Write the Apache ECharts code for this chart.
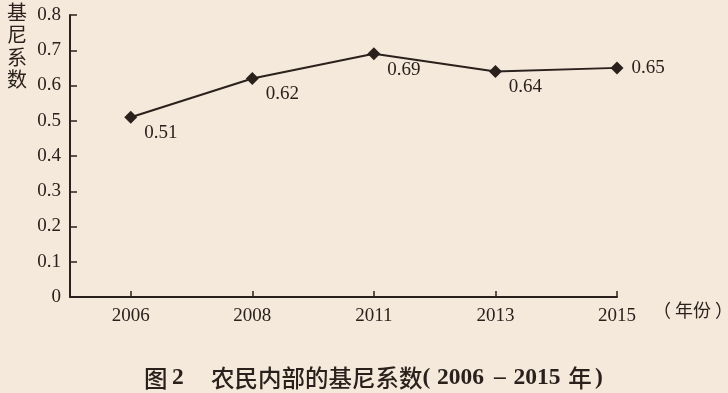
<!DOCTYPE html>
<html><head><meta charset="utf-8">
<script src="https://cdn.jsdelivr.net/npm/echarts@6/dist/echarts.min.js"></script>
<style>html,body{margin:0;padding:0;background:#f5e9dc;}#c{width:728px;height:393px;}</style>
</head><body><div id="c"></div>
<script>
const years = ['2006', '2008', '2011', '2013', '2015'];
const gini = [0.51, 0.62, 0.69, 0.64, 0.65];
const yTicks = [0, 0.1, 0.2, 0.3, 0.4, 0.5, 0.6, 0.7, 0.8];

// half-step slots: leading empty slot, then each year followed by an empty gap slot
const slots = [''];
years.forEach((y, i) => { slots.push(y); if (i < years.length - 1) slots.push(''); });

const ink = '#2b211c';
const serif = '"Liberation Serif", "DejaVu Serif", serif';
const cjk = '"Noto Sans CJK SC", sans-serif';
const F = 23.5;
const chart = echarts.init(document.getElementById('c'));
chart.setOption({
  backgroundColor: '#f5e9dc',
  animation: false,
  title: {
    text: '{c0|图}{n2|2}{g|}{c|农民内部的基尼系数}{p|(}{y1|2006}{d|–}{y2|2015}{cy|年}{p2|)}',
    left: 139, top: 361,
    textStyle: {
      fontWeight: 'normal',
      rich: {
        c0: { fontFamily: cjk, fontWeight: 500, fontSize: F, color: ink, width: 28 },
        n2: { fontFamily: serif, fontWeight: 'bold', fontSize: F, color: ink, width: 12 },
        g: { width: 27 },
        c: { fontFamily: cjk, fontWeight: 500, fontSize: F, color: ink },
        p: { fontFamily: serif, fontWeight: 'bold', fontSize: F, color: ink, width: 14.5 },
        y1: { fontFamily: serif, fontWeight: 'bold', fontSize: F, color: ink, width: 54 },
        d: { fontFamily: serif, fontWeight: 'bold', fontSize: F, color: ink, width: 18, align: 'center' },
        y2: { fontFamily: serif, fontWeight: 'bold', fontSize: F, color: ink, width: 56 },
        cy: { fontFamily: cjk, fontWeight: 500, fontSize: F, color: ink, width: 30 },
        p2: { fontFamily: serif, fontWeight: 'bold', fontSize: F, color: ink }
      }
    }
  },
  grid: { left: 70, right: 111, top: 15, bottom: 96 },
  xAxis: {
    type: 'category', boundaryGap: false, data: slots,
    splitLine: { show: false },
    axisLine: { onZero: false, lineStyle: { color: ink, width: 2 } },
    axisTick: { inside: true, length: 6, interval: (i, v) => v !== '', lineStyle: { color: ink, width: 1.5 } },
    axisLabel: {
      interval: (i, v) => v !== '', margin: 10,
      fontFamily: serif, fontSize: 19, color: ink
    }
  },
  yAxis: {
    type: 'value', min: 0, max: 0.8, interval: 0.1,
    splitLine: { show: false },
    axisLine: { show: true, onZero: false, lineStyle: { color: ink, width: 2 } },
    axisTick: { show: true, inside: true, length: 7, lineStyle: { color: ink, width: 1.5 } },
    axisLabel: { margin: 9, fontFamily: serif, fontSize: 19, color: ink,
      formatter: v => { const t = yTicks.find(x => Math.abs(x - v) < 1e-6); return t === 0 ? '0' : String(t); } }
  },
  graphic: [{
    type: 'text', left: 653, top: 301,
    style: { text: '（ 年份 ）', font: '18px ' + cjk, fill: ink }
  }, {
    type: 'text', left: 7, top: 1,
    style: { text: '基\n尼\n系\n数', font: '20px ' + cjk, fill: ink, lineHeight: 22.5 }
  }],
  series: [{
    type: 'line',
    data: gini.map((v, i) => i === gini.length - 1
      ? { value: [slots.indexOf(years[i]), v], label: { position: 'right', offset: [3, 0] } }
      : [slots.indexOf(years[i]), v]),
    symbol: 'diamond', symbolSize: 13,
    itemStyle: { color: ink },
    lineStyle: { color: ink, width: 2 },
    label: {
      show: true, position: 'bottom', offset: [30, -5],
      fontFamily: serif, fontSize: 19, color: ink,
      formatter: p => p.value[1].toFixed(2)
    }
  }]
});
</script></body></html>
